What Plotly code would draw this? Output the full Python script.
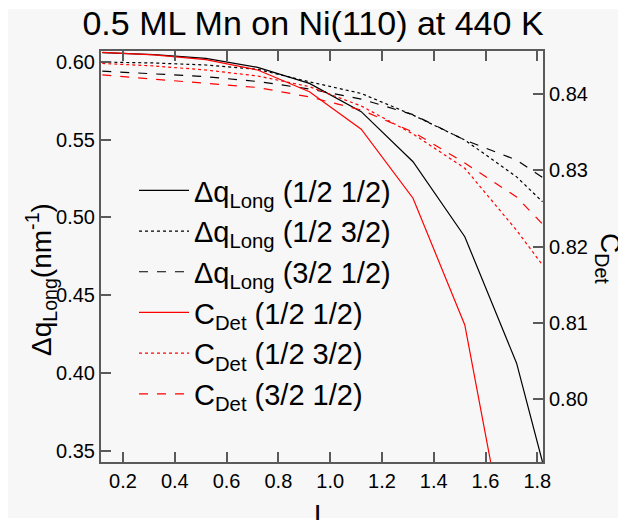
import plotly.graph_objects as go

# ---- data ----
L_values = [0.12, 0.32, 0.52, 0.72, 0.92, 1.12, 1.32, 1.52, 1.72, 1.82]

dq_half_half = [0.6059, 0.6046, 0.6022, 0.5964, 0.5861, 0.5679, 0.5357, 0.4875, 0.4062, 0.3427]
dq_half_threehalf = [0.5998, 0.5992, 0.5979, 0.5951, 0.5871, 0.5796, 0.5657, 0.5497, 0.5260, 0.5100]
dq_threehalf_half = [0.5940, 0.5924, 0.5904, 0.5873, 0.5825, 0.5760, 0.5660, 0.5497, 0.5368, 0.5256]

cdet_half_half = [0.84546, 0.84511, 0.84450, 0.84314, 0.84030, 0.83538, 0.82634, 0.80974, 0.77380, 0.75600]
cdet_half_threehalf = [0.84400, 0.84367, 0.84314, 0.84236, 0.84096, 0.83843, 0.83476, 0.83027, 0.82214, 0.81760]
cdet_threehalf_half = [0.84249, 0.84197, 0.84144, 0.84085, 0.83961, 0.83790, 0.83502, 0.83096, 0.82651, 0.82297]

series_names = [
    "Δq<sub>Long</sub> (1/2 1/2)",
    "Δq<sub>Long</sub> (1/2 3/2)",
    "Δq<sub>Long</sub> (3/2 1/2)",
    "C<sub>Det</sub> (1/2 1/2)",
    "C<sub>Det</sub> (1/2 3/2)",
    "C<sub>Det</sub> (3/2 1/2)",
]

FONT = "Arial, Liberation Sans, sans-serif"
AXIS_COLOR = "#5a5a5a"
BG = "#f7f7f7"
OFF = 8  # default body margin of the html page

fig = go.Figure()
series = [
    (dq_half_half, "black", "solid", "y"),
    (dq_half_threehalf, "black", "dot", "y"),
    (dq_threehalf_half, "black", "dash", "y"),
    (cdet_half_half, "red", "solid", "y2"),
    (cdet_half_threehalf, "red", "dot", "y2"),
    (cdet_threehalf_half, "red", "dash", "y2"),
]
for (vals, color, dash, yax), name in zip(series, series_names):
    fig.add_trace(go.Scatter(
        x=L_values, y=vals, mode="lines", name=name, yaxis=yax,
        line=dict(color=color, width=1.2, dash=dash),
    ))

# target plot area on screen: x 101..543, y 51..462
def px(xp):
    return (xp - 101) / 442.0

def py(yp):
    return (462 - yp) / 411.0

common_axis = dict(showline=True, linecolor=AXIS_COLOR, linewidth=2,
                   ticks="inside", ticklen=10, tickwidth=1.5, tickcolor=AXIS_COLOR,
                   showgrid=False, zeroline=False, tickfont=dict(size=20),
                   automargin=False)

W, H = 626, 520
fig.update_layout(
    template="none",
    width=W, height=H,
    margin=dict(l=101 - OFF, r=W - (543 - OFF), t=51 - OFF, b=H - (462 - OFF),
                autoexpand=False),
    paper_bgcolor="white",
    plot_bgcolor="rgba(0,0,0,0)",
    font=dict(family=FONT, color="black"),
    title=dict(text="0.5 ML Mn on Ni(110) at 440 K", font=dict(size=34, family=FONT),
               x=(313 - OFF) / W, xref="container", xanchor="center",
               y=1 - (23.5 - OFF) / H, yref="container", yanchor="middle"),
    showlegend=True,
    legend=dict(x=px(134), y=py(165), xanchor="left", yanchor="top",
                bgcolor="rgba(0,0,0,0)", font=dict(size=29, family=FONT),
                tracegroupgap=0, itemwidth=50),
    xaxis=dict(range=[0.115, 1.822], tick0=0.2, dtick=0.2, tickformat=".1f",
               mirror="ticks", **common_axis),
    yaxis=dict(range=[0.3427, 0.6069], tick0=0.35, dtick=0.05, tickformat=".2f",
               **common_axis),
    yaxis2=dict(range=[0.79179, 0.84563], tick0=0.80, dtick=0.01, tickformat=".2f",
                overlaying="y", side="right", **common_axis),
    shapes=[dict(type="rect", xref="paper", yref="paper", layer="below",
                 x0=px(7), x1=px(640), y0=py(518), y1=py(9),
                 fillcolor=BG, line=dict(width=0))],
    annotations=[
        dict(text="Δq<sub>Long</sub>(nm<sup>-1</sup>)", textangle=-90,
             xref="paper", yref="paper", x=px(41), y=py(280),
             xanchor="center", yanchor="middle", showarrow=False,
             font=dict(size=28, family=FONT)),
        dict(text="C<sub>Det</sub>", textangle=90,
             xref="paper", yref="paper", x=px(608), y=py(258),
             xanchor="center", yanchor="middle", showarrow=False,
             font=dict(size=28, family=FONT)),
        dict(text="L", xref="paper", yref="paper", x=px(322), y=py(497),
             xanchor="center", yanchor="top", showarrow=False,
             font=dict(size=28, family=FONT)),
    ],
)

fig.write_html("out.html")
